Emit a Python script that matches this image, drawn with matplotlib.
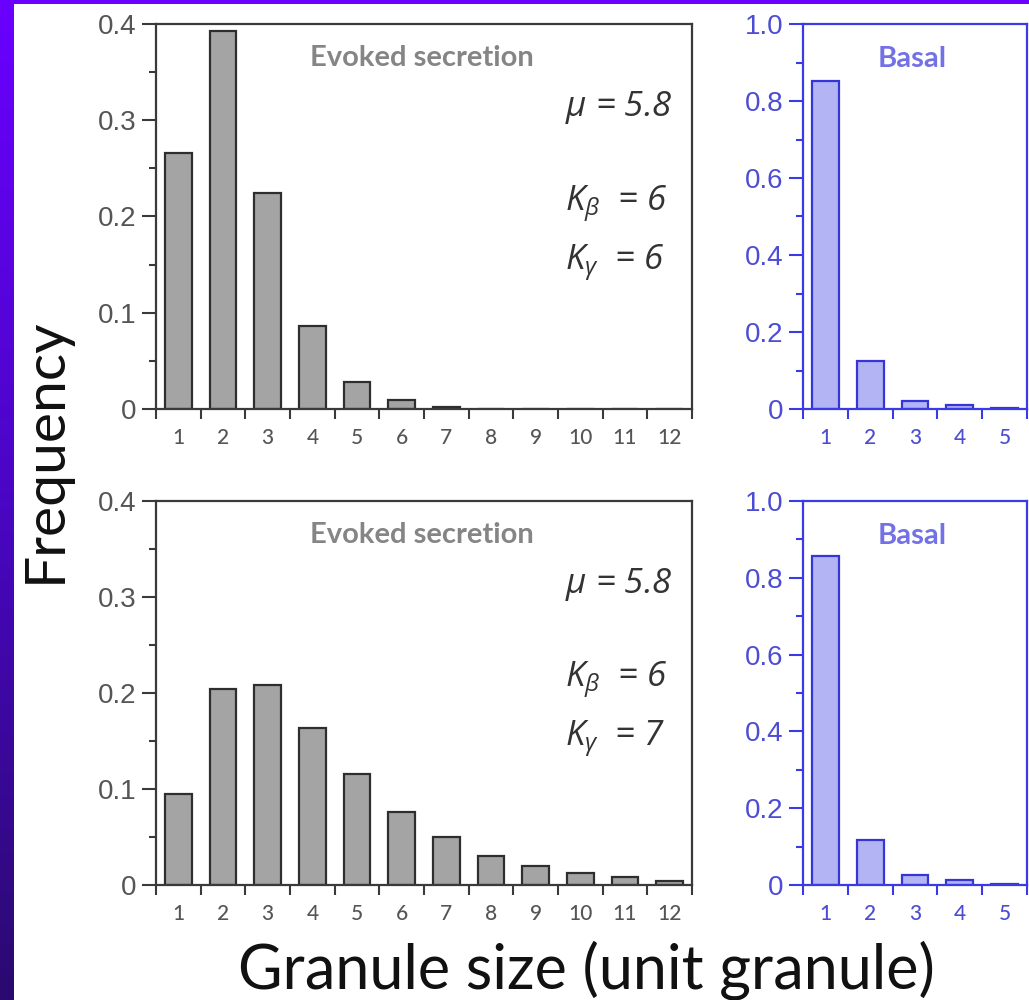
import numpy as np
import matplotlib.pyplot as plt
from matplotlib.patches import Rectangle
from matplotlib.colors import LinearSegmentedColormap
from matplotlib.ticker import MultipleLocator, FuncFormatter

plt.rcParams['mathtext.fontset'] = 'custom'
plt.rcParams['mathtext.it'] = 'Open Sans:italic'
plt.rcParams['mathtext.rm'] = 'Open Sans'

# data
sizes_evoked = [1, 2, 3, 4, 5, 6, 7, 8, 9, 10, 11, 12]
evoked_top = [0.266, 0.393, 0.224, 0.086, 0.028, 0.009, 0.002, 0.0005, 0.0002, 0.0001, 0.0, 0.0]
evoked_bottom = [0.095, 0.204, 0.208, 0.164, 0.116, 0.076, 0.050, 0.030, 0.020, 0.013, 0.008, 0.004]
sizes_basal = [1, 2, 3, 4, 5]
basal_top = [0.853, 0.124, 0.022, 0.010, 0.002]
basal_bottom = [0.856, 0.116, 0.025, 0.014, 0.003]
mu = 5.8
k_beta = [6, 6]
k_gamma = [6, 7]

W, H = 1029, 1000
fig = plt.figure(figsize=(W / 100, H / 100), dpi=100)
fig.patch.set_facecolor('white')

# purple slide background strips
bg = fig.add_axes([0, 0, 14 / W, 1])
grad = np.linspace(0, 1, 256).reshape(-1, 1)
cm = LinearSegmentedColormap.from_list('bg', ['#6a00ff', '#4a06c4', '#2a0a70'])
bg.imshow(grad, aspect='auto', cmap=cm, extent=[0, 1, 0, 1], origin='upper')
bg.axis('off')
fig.patches.append(Rectangle((0, 1 - 4 / H), 1, 4 / H, transform=fig.transFigure,
                             facecolor='#6a00ff', edgecolor='none', zorder=10))


def px(x0, y0, x1, y1):
    return [x0 / W, 1 - y1 / H, (x1 - x0) / W, (y1 - y0) / H]


def style_axes(ax, color, label_color):
    for s in ax.spines.values():
        s.set_color(color)
        s.set_linewidth(1.6)
    ax.tick_params(axis='y', which='major', direction='out', length=10, width=1.5,
                   color=color, labelcolor=label_color, labelsize=20, pad=4)
    ax.tick_params(axis='y', which='minor', direction='out', length=5, width=1.5, color=color)
    ax.tick_params(axis='x', which='major', length=0, labelcolor=label_color, labelsize=15, pad=14)
    ax.tick_params(axis='x', which='minor', direction='out', length=7, width=1.5, color=color)
    for t in ax.get_yticklabels():
        t.set_fontfamily('Liberation Sans')
    for t in ax.get_xticklabels():
        t.set_fontfamily('Lato')
        t.set_fontweight('medium')


fmt = FuncFormatter(lambda v, p: '0' if abs(v) < 1e-9 else f'{v:.1f}')

boxes_left = [px(156, 24, 692, 409), px(156, 501, 692, 885)]
boxes_right = [px(803, 24, 1027, 409), px(803, 501, 1027, 885)]
evoked = [evoked_top, evoked_bottom]
basal = [basal_top, basal_bottom]

for i in range(2):
    ax = fig.add_axes(boxes_left[i])
    ax.bar(sizes_evoked, evoked[i], width=0.6, color='#a4a4a4', edgecolor='#2e2e2e', linewidth=1.6)
    ax.set_xlim(0.5, 12.5)
    ax.set_ylim(0, 0.4)
    ax.set_xticks(sizes_evoked)
    ax.set_xticks(np.arange(0.5, 13, 1), minor=True)
    ax.yaxis.set_major_locator(MultipleLocator(0.1))
    ax.yaxis.set_minor_locator(MultipleLocator(0.05))
    ax.yaxis.set_major_formatter(fmt)
    style_axes(ax, '#3a3a3a', '#555555')
    ax.text(0.496, 0.912, 'Evoked secretion', transform=ax.transAxes, ha='center', va='center',
            fontsize=21, fontweight='bold', color='#858585', family='Lato')
    ax.text(0.763, 0.783, rf'$\mu$ = {mu}', transform=ax.transAxes, ha='left', va='center',
            fontsize=25, fontstyle='italic', color='#333333', family='Open Sans')
    ax.text(0.763, 0.532, rf'$K_\beta$  = {k_beta[i]}', transform=ax.transAxes, ha='left',
            va='center', fontsize=25, fontstyle='italic', color='#333333', family='Open Sans')
    ax.text(0.763, 0.378, rf'$K_\gamma$  = {k_gamma[i]}', transform=ax.transAxes, ha='left',
            va='center', fontsize=25, fontstyle='italic', color='#333333', family='Open Sans')

    axr = fig.add_axes(boxes_right[i])
    axr.bar(sizes_basal, basal[i], width=0.6, color='#b2b4f4', edgecolor='#3535d8', linewidth=1.6)
    axr.set_xlim(0.5, 5.5)
    axr.set_ylim(0, 1.0)
    axr.set_xticks(sizes_basal)
    axr.set_xticks(np.arange(0.5, 6, 1), minor=True)
    axr.yaxis.set_major_locator(MultipleLocator(0.2))
    axr.yaxis.set_minor_locator(MultipleLocator(0.1))
    axr.yaxis.set_major_formatter(fmt)
    style_axes(axr, '#3a3ae6', '#4c4cd4')
    axr.text(0.487, 0.91, 'Basal', transform=axr.transAxes, ha='center', va='center',
             fontsize=21, fontweight='bold', color='#7272e6', family='Lato')

fig.text(45 / W, 1 - 450 / H, 'Frequency', rotation=90, ha='center', va='center',
         fontsize=41, color='#111111', family='Lato')
fig.text(586 / W, 1 - 988 / H, 'Granule size (unit granule)', ha='center', va='baseline',
         fontsize=44, color='#111111', family='Lato')

fig.savefig('out.png', dpi=100)
